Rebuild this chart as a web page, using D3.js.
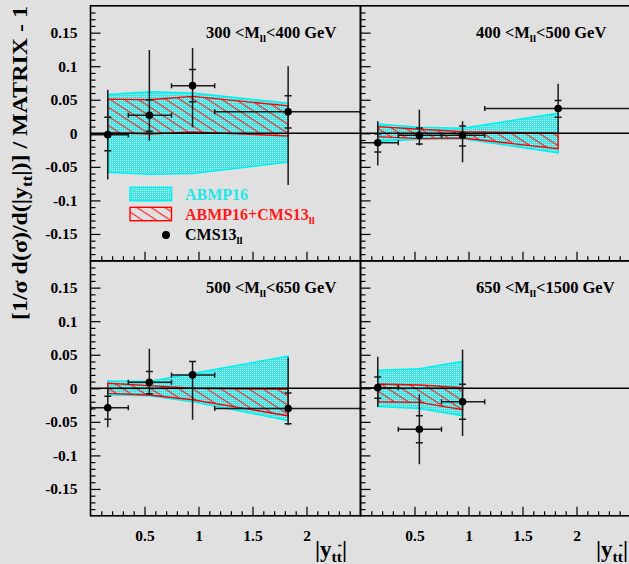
<!DOCTYPE html>
<html>
<head>
<meta charset="utf-8">
<script src="https://cdn.jsdelivr.net/npm/d3@7/dist/d3.min.js"></script>
<style>
  body { margin: 0; background: #e0e0e0; }
  svg { display: block; font-family: "Liberation Serif", "Times New Roman", serif; font-weight: bold; }
</style>
</head>
<body>
<div id="chart"></div>
<script>
// Values (|y_tt| bins, four M_ll slices)
const massLo = ['300', '400', '500', '650'];
const massHi = ['400', '500', '650', '1500'];
const xCenters = [0.16, 0.545, 0.945, 1.83];
const binEdges = [0, 0.35, 0.75, 1.15, 2.5];

// CMS13 ll data points
const cmsVal   = [[-0.002, 0.027, 0.071, 0.032], [-0.014, -0.003, -0.003, 0.037], [-0.029, 0.009, 0.020, -0.030], [0.001, -0.061, -0.020]];
const statHi   = [[0.024, 0.050, 0.095, 0.056], [-0.001, 0.008, 0.011, 0.049], [-0.012, 0.025, 0.040, -0.007], [0.017, -0.041, 0.006]];
const statLo   = [[-0.026, 0.003, 0.047, 0.008], [-0.028, -0.016, -0.019, 0.024], [-0.046, -0.008, 0.000, -0.053], [-0.015, -0.081, -0.046]];
const totHi    = [[0.065, 0.124, 0.127, 0.100], [0.018, 0.035, 0.018, 0.074], [0.001, 0.059, 0.040, 0.046], [0.047, -0.009, 0.058]];
const totLo    = [[-0.069, -0.011, 0.009, -0.077], [-0.048, -0.018, -0.043, 0.000], [-0.058, -0.010, -0.047, -0.055], [-0.028, -0.113, -0.071]];

// ABMP16 band
const abmpHi = [[0.058, 0.062, 0.060, 0.045], [0.014, 0.009, 0.0075, 0.030], [0.011, 0.010, 0.022, 0.048], [0.027, 0.029, 0.040]];
const abmpLo = [[-0.058, -0.061, -0.060, -0.043], [-0.012, -0.009, -0.008, -0.029], [-0.010, -0.011, -0.020, -0.048], [-0.027, -0.030, -0.041]];

// ABMP16+CMS13 ll band
const fitHi = [[0.051, 0.050, 0.055, 0.041], [0.010, 0.006, 0.0025, 0.0], [0.0075, 0.004, 0.0, -0.0015], [0.0065, 0.005, 0.001]];
const fitLo = [[0.001, -0.001, 0.002, -0.004], [-0.005, -0.008, -0.007, -0.023], [-0.0075, -0.010, -0.017, -0.041], [-0.020, -0.021, -0.032]];

const yMajor = [-0.15, -0.1, -0.05, 0, 0.05, 0.1, 0.15];
const xMajor = [0.5, 1, 1.5, 2];

const W = 629, H = 564;
const frameX = [90.5, 360.5], frameY = [5.8, 260.8];
const panelW = 270, panelH = 255;

const svg = d3.select('#chart').append('svg')
  .attr('width', W).attr('height', H);

svg.append('rect').attr('width', W).attr('height', H).attr('fill', '#e0e0e0');

const defs = svg.append('defs');
const cyanPat = defs.append('pattern')
  .attr('id', 'cyanFill')
  .attr('width', 2).attr('height', 2)
  .attr('patternUnits', 'userSpaceOnUse');
cyanPat.append('rect').attr('width', 2).attr('height', 2).attr('fill', '#45e2e2');
cyanPat.append('rect').attr('width', 1).attr('height', 1).attr('fill', '#aef5f5');

const hatch = defs.append('pattern')
  .attr('id', 'redHatch')
  .attr('width', 10).attr('height', 7.6)
  .attr('patternUnits', 'userSpaceOnUse')
  .attr('patternTransform', 'rotate(33)');
hatch.append('line')
  .attr('x1', 0).attr('x2', 10).attr('y1', 0.6).attr('y2', 0.6)
  .attr('stroke', '#ff1a1a').attr('stroke-width', 1.1);

const fmtY = d => d === 0 ? '0' : String(+d.toFixed(2));
const minorY = d3.range(-18, 19).map(i => i / 100).filter(v => Math.abs(Math.round(v * 100) % 5) !== 0);
const minorX = d3.range(1, 25).map(i => i / 10).filter(v => Math.round(v * 10) % 5 !== 0);

for (let i = 0; i < 4; i++) {
  const col = i % 2, row = Math.floor(i / 2);
  const px = frameX[col], py = frameY[row];
  const x = d3.scaleLinear().domain([0, 2.5]).range([px, px + panelW]);
  const y = d3.scaleLinear().domain([-0.19, 0.19]).range([py + panelH, py]);
  const n = cmsVal[i].length;
  const xs = xCenters.slice(0, n);

  const g = svg.append('g');
  defs.append('clipPath').attr('id', 'clip' + i)
    .append('rect').attr('x', px).attr('y', py).attr('width', panelW).attr('height', panelH);
  const inner = g.append('g').attr('clip-path', `url(#clip${i})`);

  const area = d3.area().x(d => x(d.x)).y0(d => y(d.lo)).y1(d => y(d.hi));

  inner.append('path')
    .datum(xs.map((v, k) => ({ x: v, lo: abmpLo[i][k], hi: abmpHi[i][k] })))
    .attr('d', d => area(d) )
    .attr('fill', 'url(#cyanFill)')
    .attr('stroke', '#00f0f0')
    .attr('stroke-width', 1.5);

  inner.append('path')
    .datum(xs.map((v, k) => ({ x: v, lo: fitLo[i][k], hi: fitHi[i][k] })))
    .attr('d', d => area(d) + 'Z')
    .attr('fill', 'url(#redHatch)')
    .attr('stroke', '#ff0000')
    .attr('stroke-width', 1.4);

  inner.append('line')
    .attr('x1', px).attr('x2', px + panelW)
    .attr('y1', y(0)).attr('y2', y(0))
    .attr('stroke', '#000').attr('stroke-width', 1.5);

  // data points with error bars
  const pts = xs.map((v, k) => ({
    x: v, val: cmsVal[i][k], x0: binEdges[k], x1: binEdges[k + 1],
    sHi: statHi[i][k], sLo: statLo[i][k], tHi: totHi[i][k], tLo: totLo[i][k]
  }));
  const eb = inner.selectAll('.pt').data(pts).enter().append('g').attr('class', 'pt')
    .attr('stroke', '#1a1a1a').attr('stroke-width', 1.5);
  eb.append('line')
    .attr('x1', d => x(d.x0)).attr('x2', d => x(d.x1))
    .attr('y1', d => y(d.val)).attr('y2', d => y(d.val));
  eb.append('line')
    .attr('x1', d => x(d.x0)).attr('x2', d => x(d.x0))
    .attr('y1', d => y(d.val) - 2.5).attr('y2', d => y(d.val) + 2.5);
  eb.append('line')
    .attr('x1', d => x(d.x1)).attr('x2', d => x(d.x1))
    .attr('y1', d => y(d.val) - 2.5).attr('y2', d => y(d.val) + 2.5);
  eb.append('line')
    .attr('x1', d => x(d.x)).attr('x2', d => x(d.x))
    .attr('y1', d => y(d.tLo)).attr('y2', d => y(d.tHi));
  eb.append('line')
    .attr('x1', d => x(d.x) - 3.5).attr('x2', d => x(d.x) + 3.5)
    .attr('y1', d => y(d.sHi)).attr('y2', d => y(d.sHi));
  eb.append('line')
    .attr('x1', d => x(d.x) - 3.5).attr('x2', d => x(d.x) + 3.5)
    .attr('y1', d => y(d.sLo)).attr('y2', d => y(d.sLo));
  eb.append('circle')
    .attr('cx', d => x(d.x)).attr('cy', d => y(d.val))
    .attr('r', 3.8).attr('fill', '#000').attr('stroke', 'none');

  // axes
  g.append('g').attr('transform', `translate(${px},0)`)
    .call(d3.axisLeft(y).tickValues(yMajor).tickSizeInner(-10).tickSizeOuter(0).tickPadding(13)
      .tickFormat(col === 0 ? fmtY : () => ''));
  g.append('g').attr('transform', `translate(${px},0)`)
    .call(d3.axisLeft(y).tickValues(minorY).tickSizeInner(-5).tickSizeOuter(0).tickFormat(() => ''));
  g.append('g').attr('transform', `translate(0,${py + panelH})`)
    .call(d3.axisBottom(x).tickValues(xMajor).tickSizeInner(-9).tickSizeOuter(0).tickPadding(14.5)
      .tickFormat(row === 1 ? (d => String(d)) : () => ''));
  g.append('g').attr('transform', `translate(0,${py + panelH})`)
    .call(d3.axisBottom(x).tickValues(minorX).tickSizeInner(-4.5).tickSizeOuter(0).tickFormat(() => ''));
  g.selectAll('.domain').remove();
  g.selectAll('.tick line').attr('stroke', '#000').attr('stroke-width', 1.2);
  g.selectAll('.tick text')
    .attr('fill', '#000')
    .attr('font-family', '"Liberation Serif", serif')
    .attr('font-weight', 'bold')
    .attr('font-size', 15.5);

  // frame
  g.append('rect')
    .attr('x', px).attr('y', py).attr('width', panelW).attr('height', panelH)
    .attr('fill', 'none').attr('stroke', '#000').attr('stroke-width', 1.6);

  // panel title
  const t = g.append('text')
    .attr('x', px + 115.5).attr('y', py + 32.5)
    .attr('font-size', 16.5).attr('fill', '#000');
  t.append('tspan').text(massLo[i] + ' <M');
  t.append('tspan').attr('font-size', 11).attr('dy', 4).text('ll');
  t.append('tspan').attr('dy', -4).text('<' + massHi[i] + ' GeV');

  // x title
  if (row === 1) {
    const xt = g.append('text')
      .attr('x', col === 0 ? 347 : 628).attr('y', 557)
      .attr('text-anchor', 'end').attr('font-size', 23).attr('fill', '#000');
    xt.append('tspan').text('|y');
    xt.append('tspan').attr('font-size', 15.5).attr('dy', 5).text('tt');
    xt.append('tspan').attr('dy', -5).text('|');
    const node = xt.node();
    const bx0 = node.getStartPositionOfChar(3).x, bx1 = node.getEndPositionOfChar(3).x;
    g.append('line')
      .attr('x1', bx0 + 1.5).attr('x2', bx1 - 0.5)
      .attr('y1', 545.5).attr('y2', 545.5)
      .attr('stroke', '#000').attr('stroke-width', 1.5);
  }
}

// legend (upper left panel)
const leg = svg.append('g');
leg.append('rect').attr('x', 130).attr('y', 187.3).attr('width', 41.5).attr('height', 13.4)
  .attr('fill', 'url(#cyanFill)').attr('stroke', '#00f0f0').attr('stroke-width', 1.5);
leg.append('rect').attr('x', 130).attr('y', 207.3).attr('width', 41.5).attr('height', 13.4)
  .attr('fill', 'url(#redHatch)').attr('stroke', '#ff0000').attr('stroke-width', 1.4);
leg.append('circle').attr('cx', 166).attr('cy', 235).attr('r', 4).attr('fill', '#000');
leg.append('text').attr('x', 185).attr('y', 199.5).attr('font-size', 16).attr('fill', '#22e8e8').text('ABMP16');
const l2 = leg.append('text').attr('x', 185).attr('y', 219.5).attr('font-size', 16).attr('fill', '#ff1a1a');
l2.append('tspan').text('ABMP16+CMS13');
l2.append('tspan').attr('font-size', 11).attr('dy', 4).text('ll');
const l3 = leg.append('text').attr('x', 185).attr('y', 239.5).attr('font-size', 16).attr('fill', '#000');
l3.append('tspan').text('CMS13');
l3.append('tspan').attr('font-size', 11).attr('dy', 4).text('ll');

// y title
const yt = svg.append('text')
  .attr('transform', 'translate(26.5,6) rotate(-90)')
  .attr('text-anchor', 'end').attr('font-size', 20).attr('fill', '#000')
  .attr('textLength', 314).attr('lengthAdjust', 'spacingAndGlyphs');
yt.append('tspan').text('[1/σ d(σ)/d(|y');
yt.append('tspan').attr('font-size', 14).attr('dy', 5).text('tt');
yt.append('tspan').attr('dy', -5).text('|)] / MATRIX - 1');
</script>
</body>
</html>
